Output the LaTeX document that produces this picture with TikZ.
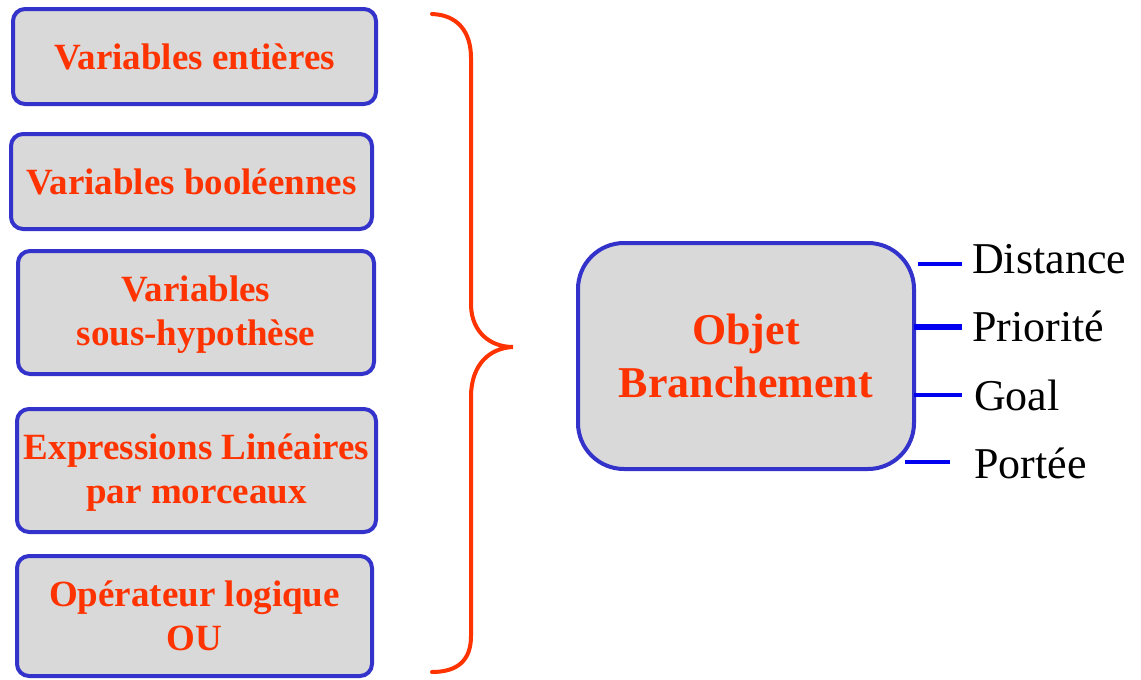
\documentclass[tikz,border=0pt]{standalone}
\usepackage{fontspec}
\setmainfont{Liberation Serif}
\definecolor{boxred}{RGB}{255,51,0}
\definecolor{boxblue}{RGB}{51,51,204}
\definecolor{boxgray}{RGB}{217,217,217}
\definecolor{linkblue}{RGB}{0,0,240}
\tikzset{
  item/.style={draw=boxblue, line width=4pt, fill=boxgray, rounded corners=12pt,
    text=boxred, font=\fontsize{37}{44}\selectfont\bfseries, align=center,
    inner sep=0pt},
  bigbox/.style={draw=boxblue, line width=4pt, fill=boxgray, rounded corners=46pt,
    text=boxred, font=\fontsize{44}{53}\selectfont\bfseries, align=center,
    inner sep=0pt, minimum width=336pt, minimum height=226pt},
  attr/.style={anchor=base west, inner sep=0pt, font=\fontsize{44}{50}\selectfont},
  link/.style={draw=linkblue, line width=4pt},
  bracepen/.style={draw=boxred, line width=4pt, line cap=round}
}
\begin{document}
\begin{tikzpicture}[x=1pt, y=-1pt]
  \useasboundingbox[fill=white] (0,0) rectangle (1141,680);

  % list of variable kinds
  \node[item, minimum width=363pt, minimum height=95pt] (b1) at (194.5,56.5) {Variables entières};
  \node[item, minimum width=361pt, minimum height=95pt] (b2) at (191.5,181.5) {Variables booléennes};
  \node[item, minimum width=356pt, minimum height=123pt] (b3) at (196,312.5) {\rule{0pt}{30pt}Variables\\sous-hypothèse};
  \node[item, minimum width=359pt, minimum height=123pt] (b4) at (196.5,470.5) {\rule{0pt}{30pt}Expressions Linéaires\\par morceaux};
  \node[item, minimum width=355pt, minimum height=120pt] (b5) at (194.5,616) {Opérateur logique\\OU};

  % closing brace gathering the list
  \path[bracepen] (432,14) .. controls (458,15) and (471,32) .. (471,58)
    -- (471,306) .. controls (472,332) and (490,347) .. (513,347)
    .. controls (490,348) and (471,364) .. (471,397)
    -- (471,636) .. controls (471,660) and (458,672) .. (432,672);

  % branching object
  \node[bigbox] (obj) at (746,356) {Objet\\Branchement};

  % attributes
  \node[attr] (dist) at (972,273) {Distance};
  \node[attr] (prio) at (972,341) {Priorité};
  \node[attr] (goal) at (974,410) {Goal};
  \node[attr] (port) at (974,478) {Portée};

  \coordinate (d0) at (918,264);
  \coordinate (p0) at (914,327);
  \coordinate (g0) at (914,395);
  \coordinate (q0) at (905,462);
  \coordinate (d1) at (962,264);
  \coordinate (p1) at (962,327);
  \coordinate (g1) at (962,395);
  \coordinate (q1) at (950,462);

  \path[link] (d0) -- (d1);
  \path[link, line width=6pt] (p0) -- (p1);
  \path[link] (g0) -- (g1);
  \path[link] (q0) -- (q1);
\end{tikzpicture}
\end{document}
